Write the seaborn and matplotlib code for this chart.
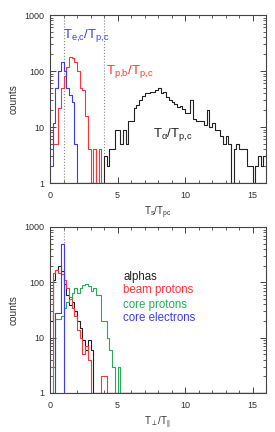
import numpy as np
import pandas as pd
import matplotlib
matplotlib.use("Agg")
import matplotlib.pyplot as plt
import seaborn as sns
from matplotlib.ticker import MultipleLocator, LogLocator, NullFormatter

# bins: width 0.2 from 0 to 16
bin_edges = np.arange(0, 16.001, 0.2)
n_bins = len(bin_edges) - 1

# ---- top panel: temperature ratios T_s / T_p,c (counts per bin, starting at bin 0)
te_ratio = [2, 12, 50, 100, 145, 100, 50, 38, 28, 5]
tpb_ratio = [8, 5, 5, 22, 50, 80, 120, 175, 170, 145, 100, 50, 45, 16, 4, 0, 4, 0, 4, 0]
# alphas start at T = 4.0 (bin 20)
talpha_start = 20
talpha_ratio = [3, 2, 4, 4, 9, 9, 5, 9, 5, 13,
                13, 22, 25, 30, 36, 40, 40, 43, 43, 45,
                49, 40, 42, 34, 30, 28, 26, 23, 24, 21,
                18, 18, 30, 14, 13, 13, 13, 11, 20, 10,
                12, 9, 9, 7, 5, 7, 5, 0, 4, 5,
                4, 4, 4, 2, 2, 0, 2, 3, 2, 3]

# ---- bottom panel: anisotropy T_perp / T_par
alphas_aniso = [20, 110, 170, 200, 160, 95, 59, 39, 45, 30, 20, 15, 9, 6, 9, 6]
beam_aniso = [3, 150, 170, 150, 140, 110, 80, 55, 35, 25, 14, 10, 5, 7, 4, 0, 0, 0, 0, 2, 2]
core_p_aniso = [0, 3, 22, 22, 25, 35, 45, 50, 65, 80, 65, 80, 90, 95, 85, 70, 80, 60, 60, 20,
                20, 10, 6, 3, 0, 3]
core_e_aniso = [0, 0, 28, 28, 500]

legend_labels = ["alphas", "beam protons", "core protons", "core electrons"]

BLACK = "#222222"
RED = "#ff3333"
GREEN = "#2aaa5a"
BLUE = "#3a3aff"
AXC = "#444444"


def full(counts, start=0):
    arr = np.zeros(n_bins)
    arr[start:start + len(counts)] = counts
    return arr


def step(ax, counts, color):
    # zero bins sit on the bottom of the log axis (1 count)
    df = pd.DataFrame({"x": bin_edges[:-1] + 0.1, "n": np.clip(counts, 1, None)})
    sns.histplot(data=df, x="x", weights="n", binwidth=0.2, binrange=(0, 16),
                 element="step", fill=False, color=color, linewidth=0.8, ax=ax)


def style(ax, xlabel):
    ax.set_yscale("log")
    ax.set_xlim(0, 16)
    ax.set_ylim(1, 1000)
    ax.set_yticks([1, 10, 100, 1000], labels=["1", "10", "100", "1000"])
    ax.yaxis.set_minor_locator(LogLocator(base=10, subs=np.arange(2, 10)))
    ax.yaxis.set_minor_formatter(NullFormatter())
    ax.xaxis.set_major_locator(MultipleLocator(5))
    ax.xaxis.set_minor_locator(MultipleLocator(1))
    ax.tick_params(which="both", direction="in", top=True, right=True,
                   colors=AXC, labelcolor="#333333", labelsize=6.5, pad=4)
    ax.tick_params(axis="x", which="both", pad=6)
    ax.tick_params(which="major", length=4, width=0.7)
    ax.tick_params(which="minor", length=2, width=0.6)
    for s in ax.spines.values():
        s.set_color(AXC)
        s.set_linewidth(0.8)
    ax.set_ylabel("counts", fontsize=7.3, color="#333333", labelpad=4)
    ax.set_xlabel(xlabel, fontsize=7, color="#333333", labelpad=3)


sns.set_style("ticks")
plt.rcParams["font.family"] = ["Liberation Sans", "DejaVu Sans"]
plt.rcParams["mathtext.fontset"] = "custom"
plt.rcParams["mathtext.rm"] = "Liberation Sans"
plt.rcParams["mathtext.it"] = "Liberation Sans"
plt.rcParams["mathtext.default"] = "regular"

fig = plt.figure(figsize=(2.75, 4.32), dpi=100)
ax1 = fig.add_axes([50 / 275, 1 - 183 / 432, 216 / 275, 168 / 432])
ax2 = fig.add_axes([50 / 275, 1 - 393 / 432, 216 / 275, 166 / 432])

# top panel
ax1.axvline(1, color="#888888", ls=":", lw=0.8)
ax1.axvline(4, color="#888888", ls=":", lw=0.8)
step(ax1, full(talpha_ratio, talpha_start), BLACK)
step(ax1, full(tpb_ratio), RED)
step(ax1, full(te_ratio), BLUE)
style(ax1, r"T$_s$/T$_{pc}$")
ax1.text(0.95, 390, r"T$_{e{,}c}$/T$_{p{,}c}$", color=BLUE, fontsize=9.5, va="baseline")
ax1.text(4.15, 88, r"T$_{p{,}b}$/T$_{p{,}c}$", color=RED, fontsize=9.5, va="baseline")
ax1.text(7.6, 6.6, r"T$_\alpha$/T$_{p{,}c}$", color=BLACK, fontsize=9.5, va="baseline")

# bottom panel
ax2.axvline(1, color="#888888", ls=":", lw=0.8)
step(ax2, full(alphas_aniso), BLACK)
step(ax2, full(beam_aniso), RED)
step(ax2, full(core_p_aniso), GREEN)
step(ax2, full(core_e_aniso), BLUE)
style(ax2, r"T$_\perp$/T$_{||}$")
for lab, col, yf in zip(legend_labels, [BLACK, RED, GREEN, BLUE], [0.699, 0.622, 0.532, 0.45]):
    ax2.text(0.34, yf, lab, color=col, fontsize=8.3, va="center", transform=ax2.transAxes)

fig.savefig("out.png", dpi=100)
